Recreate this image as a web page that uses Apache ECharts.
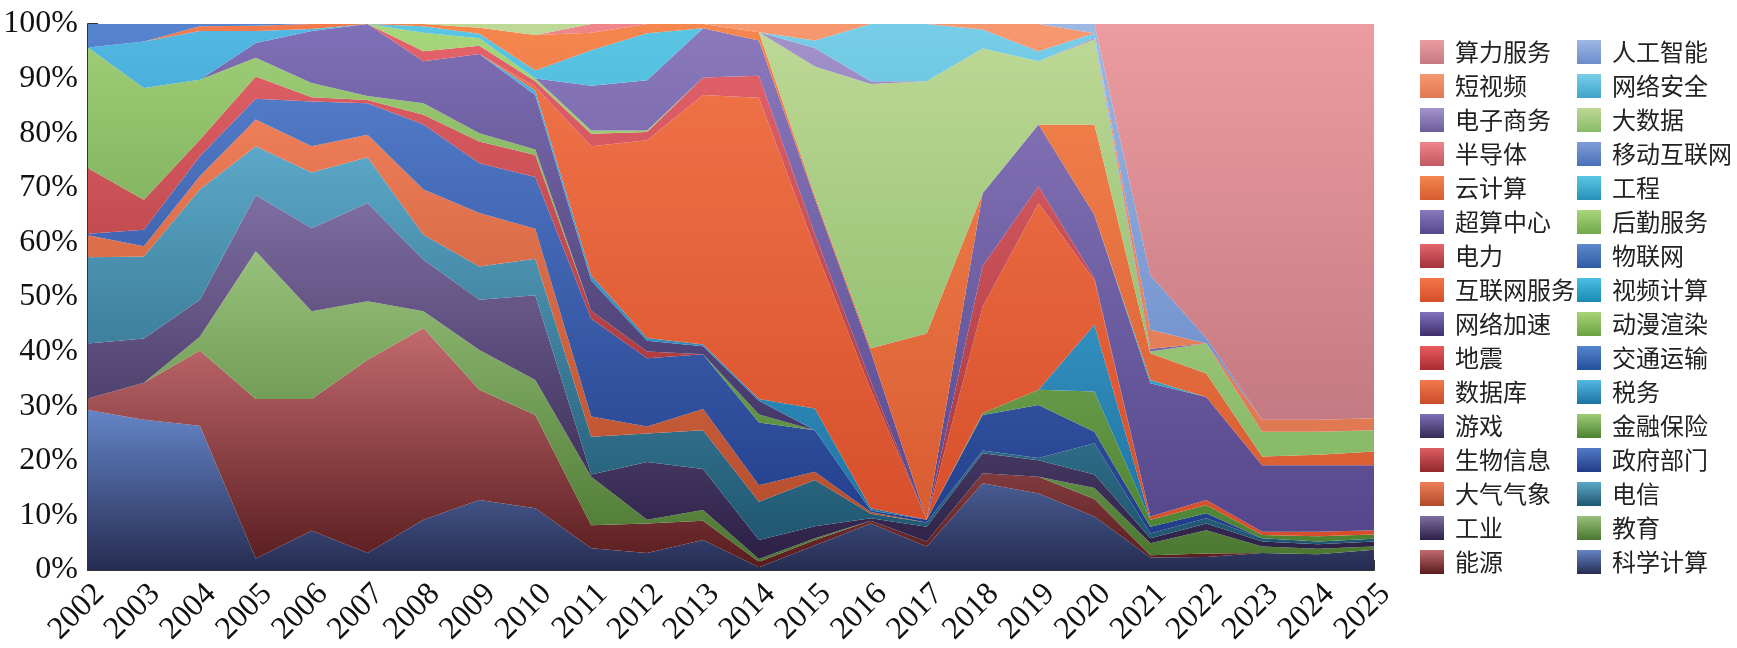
<!DOCTYPE html>
<html>
<head>
<meta charset="utf-8">
<script src="https://cdn.jsdelivr.net/npm/echarts/dist/echarts.min.js"></script>
<style>
  html, body { margin: 0; padding: 0; background: #ffffff; }
  #chart { width: 1737px; height: 648px; }
</style>
</head>
<body>
<div id="chart"></div>
<script>
// ---------- DATA (share in %, years 2002..2025) ----------
const years = ['2002','2003','2004','2005','2006','2007','2008','2009','2010','2011','2012','2013',
               '2014','2015','2016','2017','2018','2019','2020','2021','2022','2023','2024','2025'];

const kexueJisuan   = [29.3,27.5,26.4,2.1,7.2,3.1,9.2,12.8,11.3,4.0,3.1,5.5,0.5,4.5,8.5,4.3,15.9,14.0,9.8,2.3,2.4,3.1,2.9,3.7];
const nengyuan      = [2.1,6.8,13.8,29.2,24.1,35.4,35.1,20.2,17.1,4.2,5.4,3.5,1.0,1.0,0.5,0.9,1.8,3.1,3.2,0.4,0.6,0,0,0];
const jiaoyu        = [0,0,2.5,27.1,16.1,10.7,3.1,7.3,6.4,8.9,0.7,2.0,0.5,0.3,0,0,0,0,2.0,2.2,4.3,1.2,1.0,0.6];
const gongye        = [10.1,8.1,6.8,10.3,15.2,18.0,9.4,9.2,15.5,0.4,10.6,7.5,3.5,2.2,0.5,2.7,3.7,3.0,2.5,0.9,1.2,0.9,0.8,0.9];
const dianxin       = [15.8,15.0,20.2,8.9,10.2,8.4,4.6,6.1,6.7,6.9,5.2,7.1,7.0,8.5,0.8,0.8,0.5,0.4,5.7,0.9,1.0,0.6,0.5,0.5];
const daqiQixiang   = [4.0,1.9,2.4,4.9,4.8,4.1,8.3,9.8,5.5,3.7,1.3,3.9,3.0,1.5,0.3,0,0,0,0,0,0,0,0,0];
const zhengfuBumen  = [0.3,3.0,3.7,3.8,8.2,5.8,11.9,9.1,9.5,17.9,12.5,10.0,11.5,7.6,0.3,0.5,6.5,9.7,2.1,1.2,0.9,0,0,0];
const shengwuXinxi  = [12.0,5.5,3.0,4.1,0.8,0.6,1.8,4.0,4.0,1.5,1.2,0,0,0,0,0,0,0,0,0,0,0,0,0];
const jinrongBaoxian= [22.1,20.5,11.0,3.4,2.6,0.7,2.1,1.5,1.0,0,0,0,1.5,0,0,0,0.3,2.8,7.4,1.3,1.5,0.6,1.0,0.8];
const youxi         = [0,0,0,2.7,9.5,13.2,7.7,14.5,10.0,5.5,2.0,1.5,2.5,0,0,0,0,0,0,0,0,0,0,0];
const shuiwu        = [0,8.5,8.9,2.2,0.4,0,0,0,0.8,1.0,0.5,0.3,0.3,4.0,0.4,0,0,0,12.2,0,0,0,0,0];
const shujuku       = [0,0,0.9,1.0,0.9,0,0,0,0,0,0,0,0,0,0,0,0,0,0,0,0,0,0,0];
const jiaotongYunshu= [4.3,3.2,0.4,0.3,0,0,0,0,0,0,0,0,0,0,0,0,0,0,0,0,0,0,0,0];
const dizhen        = [0,0,0,0,0,0,0,0,0,0,0,0,0,0,0,0,0,0,0,0,0,0,0,0];
const dongmanXuanran= [0,0,0,0,0,0,0,0,0,0,0,0,0,0,0,0,0,0,0,0,0,0,0,0];
const wangluoJiasu  = [0,0,0,0,0,0,0,0,0,0,0,0,0,0,0,0,0,0,0,0,0,0,0,0];
const shipinJisuan  = [0,0,0,0,0,0,0,0,0,0,0,0,0,0,0,0,0,0,0,0,0,0,0,0];
const hulianwangFuwu= [0,0,0,0,0,0,0,0,0.7,23.6,36.2,45.7,55.2,29.4,21.7,0,19.5,34.2,8.1,0.6,0.9,0.6,0.8,0.8];
const wulianwang    = [0,0,0,0,0,0,0,0,0,0,0,0,0,0,0,0,0,0,0,0,0,0,0,0];
const dianli        = [0,0,0,0,0,0,1.8,1.5,1.0,2.3,1.5,3.2,4.0,2.5,1.5,0,7.5,3.1,0.5,0,0,0,0,0];
const houqinFuwu    = [0,0,0,0,0,0,3.4,1.4,0.5,0.6,0.3,0,0,0,0,0,0,0,0,0,0,0,0,0];
const chaosuanZhongxin=[0,0,0,0,0,0,0,0,0,8.2,9.2,9.0,6.5,6.5,5.5,0,13.3,11.3,11.5,24.4,18.9,12.2,12.2,11.9];
const gongcheng     = [0,0,0,0,0,0,1.2,0.8,1.5,6.5,8.6,0,0,0,0,0,0,0,0,0.6,0,0,0,0];
const yunjisuan     = [0,0,0,0,0,0,0.4,1.1,6.5,3.2,1.7,0.8,1.5,0.5,0.6,34.1,0,0,16.6,4.9,4.3,1.6,1.9,2.5];
const yidongHulianwang=[0,0,0,0,0,0,0,0,0,0,0,0,0,0,0,0,0,0,0,0,0,0,0,0];
const bandaoti      = [0,0,0,0,0,0,0,0,0,1.6,0,0,0,0,0,0,0,0,0,0,0,0,0,0];
const dashuju       = [0,0,0,0,0,0,0,0.7,2.0,0,0,0,0,23.7,48.4,46.2,26.5,11.6,15.6,0.3,5.5,4.5,4.2,3.9];
const dianziShangwu = [0,0,0,0,0,0,0,0,0,0,0,0,0,3.4,0.5,0,0,0,0.3,0.5,0,0,0,0];
const wangluoAnquan = [0,0,0,0,0,0,0,0,0,0,0,0,0,1.4,10.5,10.5,3.5,1.8,0.8,0,0,0,0,0];
const duanshipin    = [0,0,0,0,0,0,0,0,0,0,0,0,1.5,3.0,0,0,1.0,5.0,0,3.5,0,2.2,2.2,2.2];
const rengongZhineng= [0,0,0,0,0,0,0,0,0,0,0,0,0,0,0,0,0,0,1.7,10.0,1.0,0,0,0];
const suanliFuwu    = [0,0,0,0,0,0,0,0,0,0,0,0,0,0,0,0,0,0,0,46.0,57.5,72.5,72.5,72.2];

// series in stacking order, bottom -> top
const seriesNames = ['科学计算','能源','教育','工业','电信','大气气象','政府部门','生物信息','金融保险','游戏',
  '税务','数据库','交通运输','地震','动漫渲染','网络加速','视频计算','互联网服务','物联网','电力',
  '后勤服务','超算中心','工程','云计算','移动互联网','半导体','大数据','电子商务','网络安全','短视频',
  '人工智能','算力服务'];
const seriesValues = [kexueJisuan,nengyuan,jiaoyu,gongye,dianxin,daqiQixiang,zhengfuBumen,shengwuXinxi,
  jinrongBaoxian,youxi,shuiwu,shujuku,jiaotongYunshu,dizhen,dongmanXuanran,wangluoJiasu,shipinJisuan,
  hulianwangFuwu,wulianwang,dianli,houqinFuwu,chaosuanZhongxin,gongcheng,yunjisuan,yidongHulianwang,
  bandaoti,dashuju,dianziShangwu,wangluoAnquan,duanshipin,rengongZhineng,suanliFuwu];

const legendLeft  = ['算力服务','短视频','电子商务','半导体','云计算','超算中心','电力','互联网服务',
                     '网络加速','地震','数据库','游戏','生物信息','大气气象','工业','能源'];
const legendRight = ['人工智能','网络安全','大数据','移动互联网','工程','后勤服务','物联网','视频计算',
                     '动漫渲染','交通运输','税务','金融保险','政府部门','电信','教育','科学计算'];

// ---------- STYLE ----------
const gradientStops = {
  '科学计算':['#6484c6','#262c52'], '能源':['#c26a6e','#581c1e'], '教育':['#98c27c','#4a7630'],
  '工业':['#7e6ea2','#2c2046'], '电信':['#5ca8c8','#1f5670'], '大气气象':['#ee7e58','#b24a2a'],
  '政府部门':['#527ac6','#203c8a'], '生物信息':['#dc5e64','#92282c'], '金融保险':['#9ecc76','#4c8232'],
  '游戏':['#8070b8','#342a54'], '税务':['#52b8e4','#1c72a2'], '数据库':['#f27a4c','#ca4c2a'],
  '交通运输':['#5684ce','#22509c'], '地震':['#ea5a5e','#aa2c34'], '动漫渲染':['#a8d478','#6ca242'],
  '网络加速':['#8272be','#3e2e6a'], '视频计算':['#4abee6','#1a8ab2'], '互联网服务':['#f2764a','#d64e2a'],
  '物联网':['#5e88ce','#2e5ca2'], '电力':['#e6646c','#a2343c'], '后勤服务':['#a8d67a','#72a84a'],
  '超算中心':['#8a7abc','#56468c'], '工程':['#5ac6e4','#2890b8'], '云计算':['#f4864e','#d85c32'],
  '移动互联网':['#809ed8','#4a70b8'], '半导体':['#ee868a','#c25862'], '大数据':['#bed996','#88ba68'],
  '电子商务':['#a494cc','#6c5c9a'], '网络安全':['#78cee8','#40a4ca'], '短视频':['#f69870','#e07852'],
  '人工智能':['#9eb8e4','#6c8cca'], '算力服务':['#ec9ca0','#c47a82']
};
function grad(name) {
  const c = gradientStops[name];
  return { type: 'linear', x: 0, y: 0, x2: 0, y2: 1,
           colorStops: [{ offset: 0, color: c[0] }, { offset: 1, color: c[1] }] };
}

const axisFont = "'Liberation Serif', 'Times New Roman', serif";
const cjkFont = "'Noto Sans CJK SC', sans-serif";

const series = seriesNames.map((name, i) => ({
  name: name,
  type: 'line',
  stack: 'total',
  data: seriesValues[i],
  symbol: 'none',
  showSymbol: false,
  smooth: false,
  lineStyle: { width: 0 },
  itemStyle: { color: grad(name) },
  areaStyle: { color: grad(name), opacity: 1 },
  emphasis: { disabled: true },
  z: 2
}));

function legendCfg(names, left) {
  return {
    orient: 'vertical',
    left: left,
    top: 40,
    padding: 0,
    itemWidth: 24,
    itemHeight: 24,
    itemGap: 10,
    icon: 'rect',
    selectedMode: false,
    textStyle: { fontFamily: cjkFont, fontSize: 24, color: '#222', padding: [0, 0, 0, 6] },
    data: names.map(n => ({ name: n, icon: 'rect', itemStyle: { color: grad(n) } }))
  };
}

const chart = echarts.init(document.getElementById('chart'), null, { renderer: 'canvas' });
chart.setOption({
  animation: false,
  backgroundColor: '#ffffff',
  grid: { left: 88, right: 363, top: 24, bottom: 78, containLabel: false },
  legend: [legendCfg(legendLeft, 1420), legendCfg(legendRight, 1577)],
  xAxis: {
    type: 'category',
    data: years,
    boundaryGap: false,
    axisLine: { show: true, lineStyle: { color: '#333', width: 2 } },
    axisTick: { show: true, inside: true, length: 10, lineStyle: { color: '#333', width: 2 } },
    axisLabel: { rotate: 45, fontFamily: axisFont, fontSize: 32, color: '#111',
                 margin: 8, verticalAlign: 'top', interval: 0 },
    splitLine: { show: false }
  },
  yAxis: {
    type: 'value',
    min: 0, max: 100, interval: 10,
    axisLine: { show: true, lineStyle: { color: '#333', width: 2 } },
    axisTick: { show: true, inside: true, length: 10, lineStyle: { color: '#333', width: 2 } },
    axisLabel: { formatter: '{value}%', fontFamily: axisFont, fontSize: 32, color: '#111', margin: 10 },
    splitLine: { show: false }
  },
  series: series
});
</script>
</body>
</html>
